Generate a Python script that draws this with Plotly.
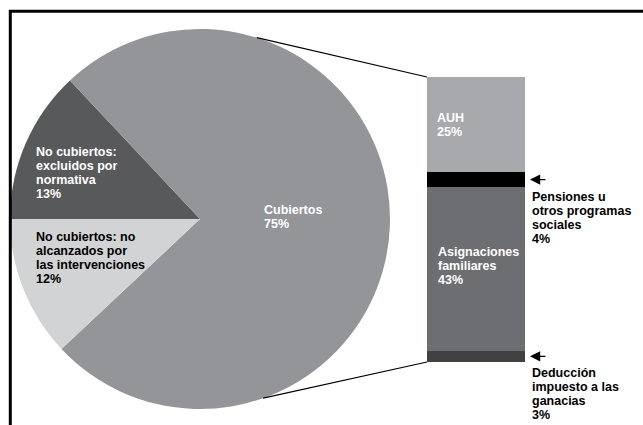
import math
import plotly.graph_objects as go

# Población total: cobertura de las intervenciones (pie)
pie_labels = ["No cubiertos: excluidos por normativa", "Cubiertos",
              "No cubiertos: no alcanzados por las intervenciones"]
pie_values = [13, 75, 12]
pie_colors = ["#58595b", "#939598", "#d1d3d4"]

# Desglose de los cubiertos (bar), de abajo hacia arriba
bar_labels = ["Deducción impuesto a las ganacias", "Asignaciones familiares",
              "Pensiones u otros programas sociales", "AUH"]
bar_values = [3, 43, 4, 25]
bar_colors = ["#414042", "#6d6e71", "#000000", "#a7a9ac"]

W, H = 643, 425
FONT = "Liberation Sans, Arial, Helvetica, sans-serif"

# pie geometry (pixels)
PIE_CX, PIE_CY, PIE_R = 200, 219, 190
# bar geometry (pixels)
BAR_L, BAR_R, BAR_TOP, BAR_BASE = 427, 525, 77, 362
bar_mid = (BAR_L + BAR_R) / 2
ppx = BAR_R - BAR_L                      # pixels per category unit
total = sum(bar_values)
ppy = (BAR_BASE - BAR_TOP) / total       # pixels per percentage point


def px_to_paper(x, y):
    return x / W, 1 - y / H


def data_x(px):
    return (px - bar_mid) / ppx


def data_y(py):
    return (BAR_BASE - py) / ppy


fig = go.Figure()

x0p, y0p = px_to_paper(PIE_CX - PIE_R, PIE_CY + PIE_R)
x1p, y1p = px_to_paper(PIE_CX + PIE_R, PIE_CY - PIE_R)
fig.add_trace(go.Pie(
    labels=pie_labels, values=pie_values, sort=False,
    direction="clockwise", rotation=270,
    marker=dict(colors=pie_colors, line=dict(width=0)),
    textinfo="none", hoverinfo="label+percent",
    domain=dict(x=[x0p, x1p], y=[y0p, y1p]),
    showlegend=False,
))

for lab, val, col in zip(bar_labels, bar_values, bar_colors):
    fig.add_trace(go.Bar(
        x=["Cubiertos"], y=[val], name=lab, width=1,
        marker=dict(color=col, line=dict(width=0)),
        showlegend=False, hovertemplate=lab + ": %{y}%<extra></extra>",
    ))

annotations = []


def add_text(lines, x_px, y_first, color, spacing=14):
    for i, line in enumerate(lines):
        xp, yp = px_to_paper(x_px, y_first + i * spacing)
        annotations.append(dict(
            x=xp, y=yp, xref="paper", yref="paper", text=line,
            showarrow=False, xanchor="left", yanchor="middle",
            font=dict(family=FONT, size=12.5, color=color, weight="bold"),
        ))


pct = [f"{v}%" for v in pie_values]
bpct = [f"{v}%" for v in bar_values]

add_text(["No cubiertos:", "excluidos por", "normativa", pct[0]], 34, 152, "white")
add_text(["No cubiertos: no", "alcanzados por", "las intervenciones", pct[2]], 34, 237, "black")
add_text(["Cubiertos", pct[1]], 262, 210, "white")
add_text(["AUH", bpct[3]], 435, 118, "white")
add_text(["Asignaciones", "familiares", bpct[1]], 436, 252, "white")
add_text(["Pensiones u", "otros programas", "sociales", bpct[2]], 530, 197, "black")
add_text(["Deducción", "impuesto a las", "ganacias", bpct[0]], 530, 373, "black")

# arrows pointing at the two thin segments
cum = 0
seg_mid = []
for v in bar_values:
    seg_mid.append(cum + v / 2)
    cum += v
for idx in (2, 0):
    annotations.append(dict(
        x=data_x(BAR_R + 5), y=seg_mid[idx], xref="x", yref="y",
        text="", showarrow=True, ax=17, ay=0,
        arrowhead=2, arrowsize=1.7, arrowwidth=1.2, arrowcolor="black",
    ))

shapes = []
# connector lines from the pie edge to the bar corners
for ang, by in ((17.4, total), (160.6, 0)):
    a = math.radians(ang)
    px = PIE_CX + PIE_R * math.sin(a)
    py = PIE_CY - PIE_R * math.cos(a)
    shapes.append(dict(
        type="line", xref="x", yref="y",
        x0=data_x(px), y0=data_y(py), x1=-0.5, y1=by,
        line=dict(color="black", width=1.2), layer="above",
    ))

# outer frame
fx, fy = px_to_paper(10.3, 11.2)
shapes.append(dict(
    type="rect", xref="paper", yref="paper",
    x0=fx, y0=-0.2, x1=1.2, y1=fy,
    line=dict(color="black", width=3), fillcolor="rgba(0,0,0,0)", layer="above",
))

fig.update_layout(
    width=W, height=H,
    margin=dict(l=0, r=0, t=0, b=0),
    paper_bgcolor="white", plot_bgcolor="rgba(0,0,0,0)",
    barmode="stack", bargap=0,
    xaxis=dict(type="category", range=[data_x(0), data_x(W)], domain=[0, 1],
               visible=False, fixedrange=True),
    yaxis=dict(range=[data_y(H), data_y(0)], domain=[0, 1],
               visible=False, fixedrange=True),
    annotations=annotations, shapes=shapes,
    showlegend=False,
)

fig.write_html("out.html")
